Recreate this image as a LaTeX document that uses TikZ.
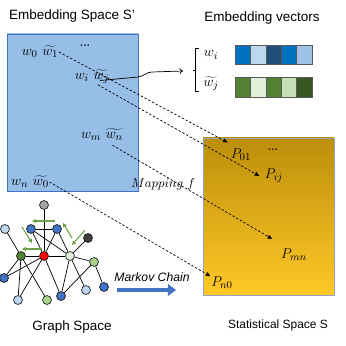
\documentclass[tikz,border=0pt]{standalone}
\usepackage{fontspec}
\setsansfont{Liberation Sans}
\usetikzlibrary{arrows.meta}
\definecolor{spacelight}{RGB}{150,190,230}
\definecolor{spacemid}{RGB}{88,150,211}
\definecolor{spaceedge}{RGB}{68,114,196}
\definecolor{goldtop}{RGB}{188,142,10}
\definecolor{goldmid}{RGB}{230,174,20}
\definecolor{goldbottom}{RGB}{255,200,40}
\definecolor{goldedge}{RGB}{143,163,196}
\definecolor{vecblue}{RGB}{0,112,192}
\definecolor{veclightblue}{RGB}{189,215,238}
\definecolor{vecnavy}{RGB}{31,78,121}
\definecolor{vecpaleblue}{RGB}{157,195,230}
\definecolor{vecgreen}{RGB}{84,130,53}
\definecolor{vecpalegreen}{RGB}{226,239,218}
\definecolor{veclightgreen}{RGB}{197,224,180}
\definecolor{vecdarkgreen}{RGB}{56,87,35}
\definecolor{nodeblue}{RGB}{68,114,196}
\definecolor{nodelight}{RGB}{189,215,238}
\definecolor{nodegray}{RGB}{165,165,165}
\definecolor{nodedark}{RGB}{64,64,64}
\definecolor{nodegreen}{RGB}{84,130,53}
\definecolor{nodepale}{RGB}{226,239,218}
\definecolor{nodelime}{RGB}{169,209,142}
\definecolor{walkgreen}{RGB}{112,160,70}

\begin{document}
\begin{tikzpicture}[
  x=0.03cm, y=-0.03cm,
  heading/.style={
    font=\sffamily\fontsize{11.5}{13}\selectfont,
    inner sep=0pt
  },
  term/.style={font=\fontsize{12.5}{14}\selectfont, inner sep=0.5pt},
  vertex/.style={
    circle,
    draw=black,
    line width=0.5pt,
    minimum size=7.6pt,
    inner sep=0pt
  },
  link/.style={draw=black, line width=0.6pt},
  mapto/.style={
    draw=black,
    line width=0.6pt,
    dash pattern=on 2pt off 1.6pt,
    -{Triangle[length=4pt,width=3.4pt]}
  },
  walk/.style={
    draw=walkgreen,
    line width=0.9pt,
    -{Triangle[length=3.4pt,width=3.4pt]}
  },
  cell/.style={draw=black!65, line width=0.4pt}
]

\useasboundingbox (0,0) rectangle (346,346);

% Embedding space and statistical space
\shade[top color=spacelight, middle color=spacemid, bottom color=spacelight,
  draw=spaceedge, line width=0.6pt] (7,34) rectangle (138,191);
\shade[top color=goldtop, middle color=goldmid, bottom color=goldbottom,
  draw=goldedge, line width=0.6pt] (203,138) rectangle (334,295);

\node[heading] (embedtitle) at (72,16) {Embedding Space S'};
\node[heading] (vectortitle) at (262,18) {Embedding vectors};
\node[heading] (graphtitle) at (72,327) {Graph Space};
\node[heading,font=\sffamily\fontsize{10.2}{12}\selectfont] (stattitle)
  at (278,325) {Statistical Space S};

% Word pairs
\node[term] (wzero) at (40,52) {$w_0\ \widetilde{w_1}$};
\node[term,font=\fontsize{9}{10}\selectfont] (wdots) at (85,46) {\textbf{...}};
\node[term] (wij) at (92,77) {$w_i\ \widetilde{w_j}$};
\node[term] (wmn) at (102,135) {$w_m\ \widetilde{w_n}$};
\node[term] (wn) at (30,182) {$w_n\ \widetilde{w_0}$};

% Probabilities
\node[term] (p01) at (241,155) {$P_{01}$};
\node[term,font=\fontsize{9}{10}\selectfont] (pdots) at (273,150) {\textbf{...}};
\node[term] (pij) at (274,176) {$P_{ij}$};
\node[term] (pmn) at (294,255) {$P_{mn}$};
\node[term] (pn0) at (222,283) {$P_{n0}$};

\node[term,font=\fontsize{10.5}{12}\selectfont] (mapping) at (163,184)
  {$Mapping\ f$};

% Embedding vectors
\foreach \c [count=\k from 0] in
  {vecblue,veclightblue,vecnavy,vecblue,vecpaleblue}
  \draw[cell,fill=\c] (235+\k*15.4,45) rectangle ++(15.4,19);
\foreach \c [count=\k from 0] in
  {vecgreen,vecpalegreen,vecgreen,veclightgreen,vecdarkgreen}
  \draw[cell,fill=\c] (235+\k*15.4,77) rectangle ++(15.4,20);

\node[term] (veci) at (211,55) {$w_i$};
\node[term] (vecj) at (211,84) {$\widetilde{w_j}$};

\draw[line width=0.6pt] (198.5,48) -- (195.5,48) -- (195.5,91) -- (198.5,91);
\draw[line width=0.6pt] (195.5,70) -- (192.5,70);
\coordinate (bracetip) at (183,71);

\draw[line width=0.6pt,-{To[length=3pt,width=5pt]}]
  ([xshift=7pt,yshift=-3pt]wij.center) -- (138,77)
  to[out=5,in=180] (152,72) -- (bracetip);

% Mapping arrows
\draw[mapto] (wzero.east) -- ([shift={(-2pt,5pt)}]p01.north west);
\draw[mapto] ([xshift=5pt]wij.south) -- ([xshift=-4pt]pij.west);
\draw[mapto] ([xshift=9pt,yshift=-3pt]wmn.south) --
  ([shift={(-7pt,8pt)}]pmn.north west);
\draw[mapto] (wn.east) -- (pn0.north west);

% Graph space
\node[vertex,fill=nodegray] (top) at (44,205) {};
\node[vertex,fill=nodelight] (farleft) at (5,229) {};
\node[vertex,fill=nodeblue] (upleft) at (31,229) {};
\node[vertex,fill=nodeblue] (upright) at (57,229) {};
\node[vertex,fill=nodedark] (dark) at (88,238) {};
\node[vertex,fill=nodegreen] (prev) at (21,256) {};
\node[vertex,fill=red] (current) at (44,256) {};
\node[vertex,fill=nodepale] (next) at (70,256) {};
\node[vertex,fill=nodelime] (east) at (94,262) {};
\node[vertex,fill=nodeblue] (west) at (4,278) {};
\node[vertex,fill=nodelight] (lowmid) at (86,290) {};
\node[vertex,fill=nodeblue] (loweast) at (104,287) {};
\node[vertex,fill=nodelight] (lowwest) at (18,300) {};
\node[vertex,fill=nodelime] (lowgreen) at (47,300) {};
\node[vertex,fill=nodeblue] (lowblue) at (61,296) {};

\foreach \a/\b in {top/current,farleft/prev,upleft/upright,upleft/current,
  upleft/next,upright/current,upright/next,dark/next,prev/current,
  current/next,next/east,prev/west,current/west,prev/lowwest,prev/lowgreen,
  current/lowwest,current/lowblue,next/lowblue,next/lowmid,east/lowblue,
  east/loweast}
  \draw[link] (\a) -- (\b);

% Random walk steps
\draw[walk] (55,221) -- (32,221);
\draw[walk] (22,227) -- (32,243);
\draw[walk] (42,249) -- (22,249);
\draw[walk] (72,238) -- (63,223);
\draw[walk] (85,230) -- (72,245);

% Markov chain
\coordinate (chainstart) at (117,290);
\coordinate (chainend) at (176,290);
\draw[spaceedge,line width=4.2pt,-{Triangle[length=7pt,width=10pt]}]
  (chainstart) -- (chainend);
\node[font=\sffamily\itshape\fontsize{10.4}{12}\selectfont] (chainlabel)
  at (152,277) {Markov Chain};

\end{tikzpicture}
\end{document}
